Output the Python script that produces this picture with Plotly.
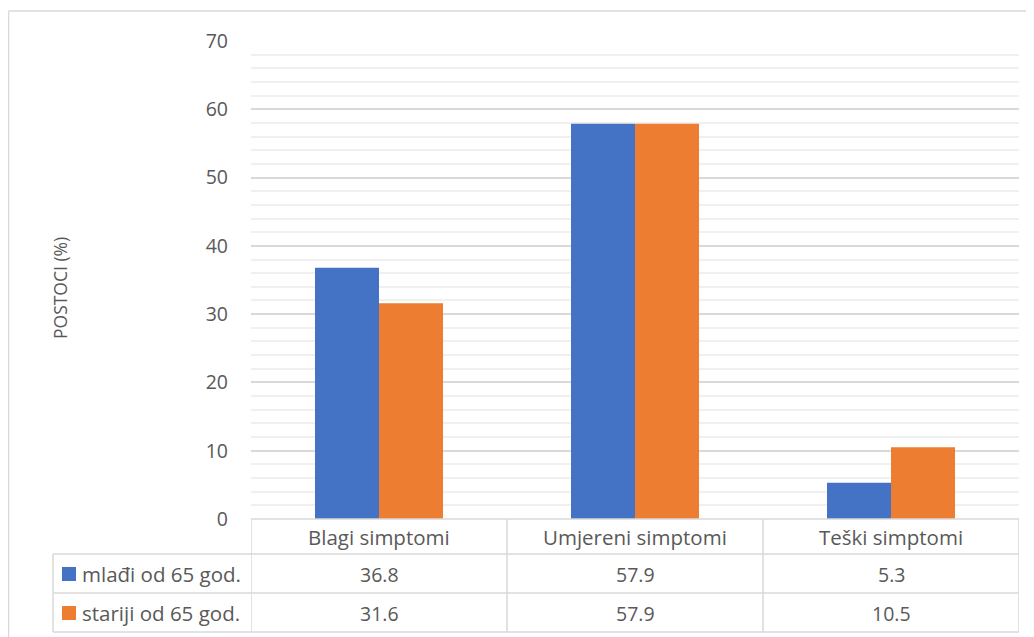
import plotly.graph_objects as go

categories = ["Blagi simptomi", "Umjereni simptomi", "Teški simptomi"]
series_names = ["mlađi od 65 god.", "stariji od 65 god."]
young_values = [36.8, 57.9, 5.3]
old_values = [31.6, 57.9, 10.5]
y_ticks = [0, 10, 20, 30, 40, 50, 60, 70]
colors = ["#4472C4", "#ED7D31"]
series_values = [young_values, old_values]

OFF = 8  # page body margin
W, H = 1026, 629
L, R, T, B = 243, 15, 33, 118
PW, PH = W - L - R, H - T - B


def px(xs):
    return (xs - OFF - L) / PW


def py(ys):
    return (H - B - (ys - OFF)) / PH


FONT = "Open Sans"
TXT = "#595959"
LINE = "#d9d9d9"

fig = go.Figure()
for name, vals, col in zip(series_names, series_values, colors):
    fig.add_trace(go.Bar(x=categories, y=vals, name=name, marker_color=col,
                         marker_line_width=0, showlegend=False))

shapes = []
shapes.append(dict(type="line", xref="paper", yref="paper", x0=0, x1=1, y0=py(519), y1=py(519),
                   line=dict(color=LINE, width=1.5)))
for yy in [554, 593, 632]:
    shapes.append(dict(type="line", xref="paper", yref="paper", x0=px(53), x1=1, y0=py(yy), y1=py(yy),
                       line=dict(color=LINE, width=1.5)))
for i in range(len(categories) + 1):
    shapes.append(dict(type="line", xref="x", yref="paper", x0=i - 0.5, x1=i - 0.5,
                       y0=py(519), y1=py(632), line=dict(color=LINE, width=1.5)))
shapes.append(dict(type="line", xref="paper", yref="paper", x0=px(53), x1=px(53),
                   y0=py(554), y1=py(632), line=dict(color=LINE, width=1.5)))
for col, (ya, yb) in zip(colors, [(567, 581), (606, 620)]):
    shapes.append(dict(type="rect", xref="paper", yref="paper", x0=px(62), x1=px(76),
                       y0=py(yb), y1=py(ya), fillcolor=col, line=dict(width=0)))
shapes.append(dict(type="line", xref="paper", yref="paper", x0=px(8.5), x1=px(1045),
                   y0=py(11), y1=py(11), line=dict(color=LINE, width=1.5)))
shapes.append(dict(type="line", xref="paper", yref="paper", x0=px(8.5), x1=px(8.5),
                   y0=py(11), y1=py(650), line=dict(color=LINE, width=1.5)))

annotations = []
for c in categories:
    annotations.append(dict(x=c, xref="x", y=py(537), yref="paper", text=c, showarrow=False,
                            font=dict(family=FONT, size=20.5, color=TXT), xanchor="center", yanchor="middle"))
for name, vals, yc in zip(series_names, series_values, [574, 613]):
    annotations.append(dict(x=px(80), xref="paper", y=py(yc), yref="paper", text=name, showarrow=False,
                            font=dict(family=FONT, size=20.5, color=TXT), xanchor="left", yanchor="middle"))
    for c, v in zip(categories, vals):
        annotations.append(dict(x=c, xref="x", y=py(yc), yref="paper", text=f"{v}", showarrow=False,
                                font=dict(family=FONT, size=19.5, color=TXT), xanchor="center", yanchor="middle"))
annotations.append(dict(x=px(60), xref="paper", y=py(288), yref="paper", text="POSTOCI (%)",
                        textangle=-90, showarrow=False, font=dict(family=FONT, size=17.5, color=TXT),
                        xanchor="center", yanchor="middle"))

fig.update_layout(
    width=W, height=H,
    margin=dict(l=L, r=R, t=T, b=B),
    paper_bgcolor="white", plot_bgcolor="white",
    barmode="group", bargap=0.5, bargroupgap=0,
    shapes=shapes, annotations=annotations,
    xaxis=dict(showticklabels=False, showgrid=False, zeroline=False, showline=False,
               range=[-0.5, 2.5]),
    yaxis=dict(range=[0, 70], tickvals=y_ticks, showgrid=True, gridcolor=LINE, gridwidth=1.5,
               zeroline=False, showline=False, ticklabelstandoff=22,
               tickfont=dict(family=FONT, size=19.5, color=TXT),
               minor=dict(dtick=2, showgrid=True, gridcolor="#f0f0f0", gridwidth=1.5)),
)

fig.write_html("out.html")
